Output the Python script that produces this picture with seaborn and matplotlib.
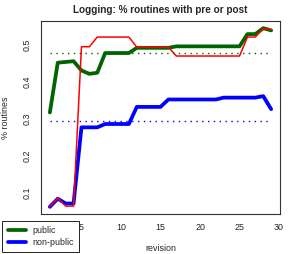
import numpy as np
import pandas as pd
import matplotlib
matplotlib.use("Agg")
import matplotlib.pyplot as plt
import seaborn as sns

revision = list(range(1, 30))
public = [0.317, 0.451, 0.453, 0.455, 0.430, 0.421, 0.424, 0.477, 0.477, 0.477,
          0.477, 0.491, 0.491, 0.491, 0.491, 0.491, 0.495, 0.495, 0.495, 0.495,
          0.495, 0.495, 0.495, 0.495, 0.495, 0.528, 0.528, 0.544, 0.538]
non_public = [0.063, 0.085, 0.072, 0.072, 0.277, 0.277, 0.277, 0.286, 0.286, 0.286,
              0.286, 0.332, 0.332, 0.332, 0.332, 0.352, 0.352, 0.352, 0.352, 0.352,
              0.352, 0.352, 0.357, 0.357, 0.357, 0.357, 0.357, 0.361, 0.326]
all_routines = [0.063, 0.087, 0.065, 0.065, 0.494, 0.494, 0.520, 0.520, 0.520, 0.520,
                0.520, 0.493, 0.493, 0.493, 0.493, 0.493, 0.469, 0.469, 0.469, 0.469,
                0.469, 0.469, 0.469, 0.469, 0.469, 0.520, 0.520, 0.543, 0.540]
public_avg = 0.478
non_public_avg = 0.295
xticks = [0, 5, 10, 15, 20, 25, 30]
xticklabels = ["", "5", "10", "15", "20", "25", "30"]  # 0 sits under the legend
yticks = [0.1, 0.2, 0.3, 0.4, 0.5]

data = pd.DataFrame({"revision": revision, "public": public,
                     "non_public": non_public, "all": all_routines})

sns.set_style("white")
plt.rcParams['font.family'] = ['Liberation Sans', 'DejaVu Sans']

fig = plt.figure(figsize=(2.94, 2.54), dpi=100)
ax = fig.add_axes([41/294, 1-214/254, 239/294, 193/254])

sns.lineplot(data=data, x="revision", y="public", color="#006400", lw=2.7, ax=ax, label="public")
sns.lineplot(data=data, x="revision", y="non_public", color="#0000ff", lw=2.7, ax=ax, label="non-public")
sns.lineplot(data=data, x="revision", y="all", color="#ff0000", lw=1.1, ax=ax, legend=False)
ax.hlines(public_avg, revision[0], revision[-1], colors="#006400", lw=1.0, linestyles=(0, (1, 3.2)))
ax.hlines(non_public_avg, revision[0], revision[-1], colors="#0000ff", lw=1.0, linestyles=(0, (1, 3.2)))

# R-style 4% padding
xr = revision[-1] - revision[0]
ax.set_xlim(revision[0] - 0.04*xr, revision[-1] + 0.04*xr)
ymin = min(min(public), min(non_public), min(all_routines))
ymax = max(max(public), max(non_public), max(all_routines))
yr = ymax - ymin
ax.set_ylim(ymin - 0.04*yr, ymax + 0.04*yr)

ax.set_xticks(xticks)
ax.set_xticklabels(xticklabels)
ax.set_yticks(yticks)
ax.set_yticklabels([str(v) for v in yticks], rotation=90, va="center")
ax.tick_params(direction="out", length=3.8, width=0.7, labelsize=6.4, pad=3, colors="#222222")
for s in ax.spines.values():
    s.set_color("#333333")
    s.set_linewidth(0.8)

ax.set_title("Logging: % routines with pre or post", fontsize=7.2, fontweight="bold", pad=6)
ax.set_xlabel("revision", fontsize=6.4, labelpad=8)
ax.set_ylabel("% routines", fontsize=6.4, labelpad=9)

ax.get_legend().remove()
h, l = ax.get_legend_handles_labels()
leg = fig.legend(h, l, loc="lower left", bbox_to_anchor=(0.008, 0.006), fontsize=6.4,
                 frameon=True, fancybox=False, edgecolor="#222222", framealpha=1,
                 handlelength=2.1, handletextpad=0.65, borderpad=0.6, labelspacing=0.3,
                 borderaxespad=0)
leg.get_frame().set_linewidth(0.7)

fig.savefig("out.png", dpi=100)
